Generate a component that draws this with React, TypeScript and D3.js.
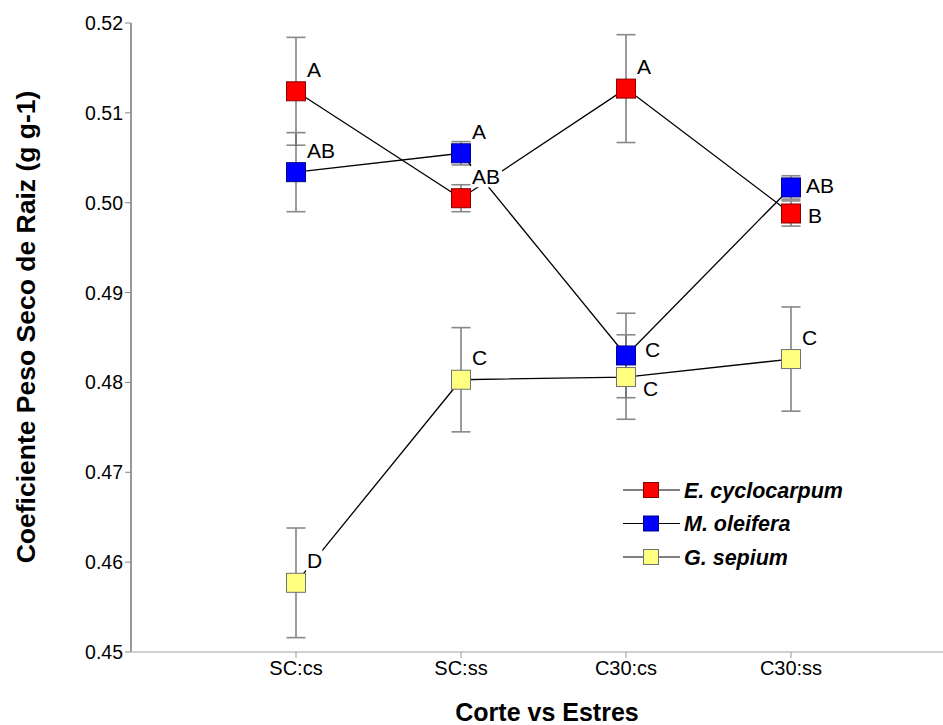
import * as d3 from "d3";

const categories = ["SC:cs", "SC:ss", "C30:cs", "C30:ss"];
const yTicks = [0.45, 0.46, 0.47, 0.48, 0.49, 0.5, 0.51, 0.52];

// means and standard errors per species
const ecycloMean = [0.5124, 0.5005, 0.5127, 0.4988];
const ecycloErr = [0.006, 0.0015, 0.006, 0.0014];
const ecycloLetters = ["A", "AB", "A", "B"];

const moringaMean = [0.5034, 0.5055, 0.483, 0.5017];
const moringaErr = [0.0044, 0.0013, 0.0047, 0.0013];
const moringaLetters = ["AB", "A", "C", "AB"];

const gliriMean = [0.4577, 0.4803, 0.4806, 0.4826];
const gliriErr = [0.0061, 0.0058, 0.0047, 0.0058];
const gliriLetters = ["D", "C", "C", "C"];

const series = [
  { name: "E. cyclocarpum", mean: ecycloMean, err: ecycloErr, letters: ecycloLetters, fill: "#ff0000", stroke: "#8a0000" },
  { name: "M. oleifera", mean: moringaMean, err: moringaErr, letters: moringaLetters, fill: "#0000ff", stroke: "#00008a" },
  { name: "G. sepium", mean: gliriMean, err: gliriErr, letters: gliriLetters, fill: "#ffff80", stroke: "#707070" },
];

// label offsets [dx of left edge, dy of centre] relative to the marker
const labelOffsets: Record<string, [number, number]> = {
  "1-2": [19, -6],
  "2-2": [17, 11],
  "0-3": [17, 2],
  "1-3": [15, -2],
};

const font = "'Liberation Sans', Arial, sans-serif";

export default function App() {
  const width = 943;
  const height = 725;
  const x = d3.scaleLinear().domain([0, 5]).range([131, 956]);
  const y = d3.scaleLinear().domain([0.45, 0.52]).range([652, 23]);
  const line = d3.line<number>().x((_, i) => x(i + 1)).y(d => y(d));
  const ms = 19;
  const cap = 9.5;

  return (
    <svg width={width} height={height} style={{ position: "absolute", left: 0, top: 0, background: "#fff" }}>
      {/* y axis */}
      <line x1={131} x2={131} y1={y(0.52)} y2={y(0.45)} stroke="#333" strokeWidth={1} />
      {yTicks.map(t => (
        <g key={t}>
          <line x1={125} x2={131} y1={y(t)} y2={y(t)} stroke="#888" />
          <text x={123} y={y(t)} dy="0.36em" textAnchor="end" fontFamily={font} fontSize={19.5} fill="#000">
            {d3.format(".2f")(t)}
          </text>
        </g>
      ))}
      {/* x axis */}
      <line x1={131} x2={943} y1={y(0.45)} y2={y(0.45)} stroke="#c0c0c0" strokeWidth={1.5} />
      {categories.map((c, i) => (
        <g key={c}>
          <line x1={x(i + 1)} x2={x(i + 1)} y1={y(0.45)} y2={y(0.45) + 6} stroke="#999" />
          <text x={x(i + 1)} y={675} textAnchor="middle" fontFamily="'Liberation Sans Narrow', 'Liberation Sans', Arial, sans-serif" fontSize={20} fill="#000">
            {c}
          </text>
        </g>
      ))}
      <text x={547} y={721} textAnchor="middle" fontFamily={font} fontWeight="bold" fontSize={25}>
        Corte vs Estres
      </text>
      <text transform="translate(35,327) rotate(-90)" textAnchor="middle" fontFamily={font} fontWeight="bold" fontSize={26.5}>
        Coeficiente Peso Seco de Raiz (g g-1)
      </text>

      {/* error bars */}
      {series.map((s, si) =>
        s.mean.map((m, i) => (
          <g key={`e${si}-${i}`} stroke="#666" strokeWidth={1.3}>
            <line x1={x(i + 1)} x2={x(i + 1)} y1={y(m + s.err[i])} y2={y(m - s.err[i])} />
            <line x1={x(i + 1) - cap} x2={x(i + 1) + cap} y1={y(m + s.err[i])} y2={y(m + s.err[i])} stroke="#888" strokeWidth={1.6} />
            <line x1={x(i + 1) - cap} x2={x(i + 1) + cap} y1={y(m - s.err[i])} y2={y(m - s.err[i])} stroke="#888" strokeWidth={1.6} />
          </g>
        ))
      )}
      {/* connecting lines */}
      {series.map(s => (
        <path key={`l${s.name}`} d={line(s.mean) || ""} fill="none" stroke="#000" strokeWidth={1.3} />
      ))}
      {/* letter labels with white background */}
      {series.map((s, si) =>
        s.mean.map((m, i) => {
          const off = labelOffsets[`${si}-${i}`] || [11, -22];
          const lx = x(i + 1) + off[0];
          const ly = y(m) + off[1];
          const w = s.letters[i].length * 14.5;
          return (
            <g key={`t${si}-${i}`}>
              <rect x={lx - 1} y={ly - 11} width={w + 2} height={22} fill="#fff" />
              <text x={lx} y={ly} dy="0.36em" fontFamily={font} fontSize={21} fill="#000">
                {s.letters[i]}
              </text>
            </g>
          );
        })
      )}
      {/* markers */}
      {series.map((s, si) =>
        s.mean.map((m, i) => (
          <rect key={`m${si}-${i}`} x={x(i + 1) - ms / 2} y={y(m) - ms / 2} width={ms} height={ms} fill={s.fill} stroke={s.stroke} strokeWidth={1} />
        ))
      )}

      {/* legend */}
      {series.map((s, si) => {
        const ly = 490 + si * 33.5;
        return (
          <g key={`lg${si}`}>
            <line x1={623} x2={680} y1={ly} y2={ly} stroke="#000" strokeWidth={1.2} />
            <rect x={651 - 7.5} y={ly - 7.5} width={15} height={15} fill={s.fill} stroke={s.stroke} />
            <text x={684} y={ly} dy="0.36em" fontFamily={font} fontWeight="bold" fontStyle="italic" fontSize={21.5}>
              {s.name}
            </text>
          </g>
        );
      })}
    </svg>
  );
}
